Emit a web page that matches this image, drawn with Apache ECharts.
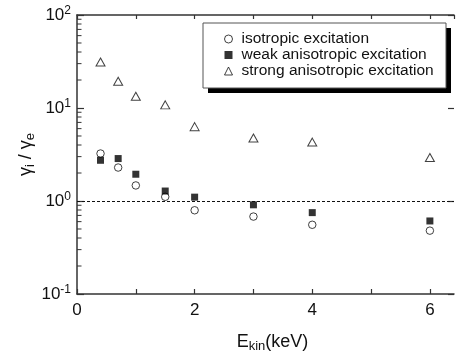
<!DOCTYPE html>
<html>
<head>
<meta charset="utf-8">
<script src="https://cdn.jsdelivr.net/npm/echarts@6/dist/echarts.min.js"></script>
<style>
  html, body { margin: 0; padding: 0; background: #fff; }
  #chart { width: 456px; height: 358px; }
</style>
</head>
<body>
<div id="chart"></div>
<script>
// Kinetic energy (keV) of each measurement
const energies = [0.4, 0.7, 1.0, 1.5, 2, 3, 4, 6];
// gamma_i / gamma_e ratios for each excitation regime
const isotropic = [3.24, 2.29, 1.47, 1.11, 0.795, 0.68, 0.555, 0.48];
const weakAniso = [2.74, 2.86, 1.94, 1.28, 1.10, 0.91, 0.75, 0.61];
const strongAniso = [31.2, 19.4, 13.4, 10.8, 6.3, 4.75, 4.3, 2.93];
const seriesNames = ['isotropic excitation', 'weak anisotropic excitation', 'strong anisotropic excitation'];
// Decade exponents of the ratio axis; minor ticks sit at 2..9 within each decade
const decadeExponents = [-1, 0, 1, 2];
const minorTickValues = [];
decadeExponents.slice(0, -1).forEach(function (e) {
  for (let k = 2; k <= 9; k++) minorTickValues.push(+(k * Math.pow(10, e)).toPrecision(3));
});

const FONT = '"Liberation Sans", Arial, sans-serif';
const AXIS_COLOR = '#333';
const X_MIN = 0, X_MAX = 6.41;

function pairs(ys) { return energies.map(function (x, i) { return [x, ys[i]]; }); }

const chart = echarts.init(document.getElementById('chart'), null, { renderer: 'canvas' });

const xCommon = { type: 'value', min: X_MIN, max: X_MAX, interval: 1, splitLine: { show: false } };
const yCommon = { type: 'log', logBase: 10, min: 0.1, max: 100, splitLine: { show: false } };

// Legend frame with its offset drop shadow
const legendBox = { x: 203, y: 23, w: 243, h: 65, shadow: 5 };

chart.setOption({
  animation: false,
  backgroundColor: '#fff',
  textStyle: { fontFamily: FONT },
  grid: { left: 77, right: 2, top: 15, bottom: 63, containLabel: false },
  graphic: [
    {
      type: 'rect', z: 10, silent: true,
      shape: { x: legendBox.x + legendBox.shadow, y: legendBox.y + legendBox.shadow, width: legendBox.w, height: legendBox.h },
      style: { fill: '#000' }
    },
    {
      type: 'rect', z: 11, silent: true,
      shape: { x: legendBox.x, y: legendBox.y, width: legendBox.w, height: legendBox.h },
      style: { fill: '#fff', stroke: '#555', lineWidth: 1 }
    }
  ],
  legend: {
    orient: 'vertical',
    left: 224,
    top: 31,
    padding: 0,
    itemWidth: 8,
    itemHeight: 8,
    itemGap: 0,
    z: 20,
    textStyle: { fontFamily: FONT, fontSize: 15.5, color: '#111', lineHeight: 16, padding: [0, 0, 0, 4] },
    data: [
      { name: seriesNames[0], icon: 'circle', itemStyle: { color: '#fff', borderColor: '#111', borderWidth: 1 } },
      { name: seriesNames[1], icon: 'rect', itemStyle: { color: '#000', borderWidth: 0 } },
      { name: seriesNames[2], icon: 'triangle', itemStyle: { color: '#fff', borderColor: '#111', borderWidth: 1 } }
    ]
  },
  xAxis: [
    Object.assign({}, xCommon, {
      position: 'bottom',
      axisLine: { show: true, onZero: false, lineStyle: { color: AXIS_COLOR, width: 1.5 } },
      axisTick: { show: true, inside: true, length: 5, lineStyle: { color: AXIS_COLOR, width: 1.2 } },
      axisLabel: {
        fontFamily: FONT, fontSize: 17, color: '#111', margin: 8,
        showMaxLabel: false,
        formatter: function (v) { return (v % 2 === 0) ? String(v) : ''; }
      },
      name: '{t|E}{sub|kin}{t|(keV)}',
      nameLocation: 'middle',
      nameGap: 38,
      nameTextStyle: {
        padding: [0, 0, 0, 14],
        rich: {
          t: { fontFamily: FONT, fontSize: 18, color: '#111' },
          sub: { fontFamily: FONT, fontSize: 13, color: '#111', padding: [8, 0, 0, 0] }
        }
      }
    }),
    Object.assign({}, xCommon, {
      position: 'top',
      axisLine: { show: true, onZero: false, lineStyle: { color: AXIS_COLOR, width: 1.5 } },
      axisTick: { show: true, inside: true, length: 4, lineStyle: { color: AXIS_COLOR, width: 1.2 } },
      axisLabel: { show: false }
    })
  ],
  yAxis: [
    Object.assign({}, yCommon, {
      position: 'left',
      axisLine: { show: true, onZero: false, lineStyle: { color: AXIS_COLOR, width: 1.5 } },
      axisTick: { show: true, inside: true, length: 7, lineStyle: { color: AXIS_COLOR, width: 1.2 } },
      axisLabel: {
        margin: 6,
        formatter: function (v) {
          const e = Math.round(Math.log10(v));
          return '{b|10}{s|' + e + '}';
        },
        rich: {
          b: { fontFamily: FONT, fontSize: 17, color: '#111' },
          s: { fontFamily: FONT, fontSize: 12, color: '#111', padding: [0, 0, 9, 0] }
        }
      },
      name: '{g|γ}{sub|i}{g| / γ}{sub|e}',
      nameLocation: 'middle',
      nameMoveOverlap: false,
      nameGap: 40,
      nameRotate: 90,
      nameTextStyle: {
        rich: {
          g: { fontFamily: FONT, fontSize: 18, color: '#111' },
          sub: { fontFamily: FONT, fontSize: 13, color: '#111', padding: [8, 0, 0, 0] }
        }
      }
    }),
    Object.assign({}, yCommon, {
      position: 'right',
      axisLine: { show: false, onZero: false },
      axisTick: { show: true, inside: true, length: 6, lineStyle: { color: AXIS_COLOR, width: 1.2 } },
      axisLabel: { show: false }
    })
  ],
  series: [
    {
      // minor ticks between the decades of the left axis
      type: 'custom',
      silent: true,
      xAxisIndex: 0,
      yAxisIndex: 0,
      data: minorTickValues.map(function (v) { return [X_MIN, v]; }),
      encode: { x: 0, y: 1 },
      renderItem: function (params, api) {
        const p = api.coord([api.value(0), api.value(1)]);
        return {
          type: 'line',
          shape: { x1: p[0], y1: p[1], x2: p[0] + 4.5, y2: p[1] },
          style: { stroke: AXIS_COLOR, lineWidth: 1 }
        };
      },
      z: 1
    },
    {
      name: seriesNames[0],
      type: 'scatter',
      data: pairs(isotropic),
      symbol: 'circle',
      symbolSize: 7.5,
      itemStyle: { color: '#fff', borderColor: '#111', borderWidth: 1 },
      markLine: {
        silent: true,
        symbol: 'none',
        label: { show: false },
        lineStyle: { color: '#111', type: [3, 2], width: 1 },
        data: [{ yAxis: 1 }]
      },
      z: 3
    },
    {
      name: seriesNames[1],
      type: 'scatter',
      data: pairs(weakAniso),
      symbol: 'rect',
      symbolSize: 7,
      itemStyle: { color: '#000' },
      z: 4
    },
    {
      name: seriesNames[2],
      type: 'scatter',
      data: pairs(strongAniso),
      symbol: 'triangle',
      symbolSize: [9, 8],
      itemStyle: { color: '#fff', borderColor: '#111', borderWidth: 1 },
      z: 3
    }
  ]
});
</script>
</body>
</html>
